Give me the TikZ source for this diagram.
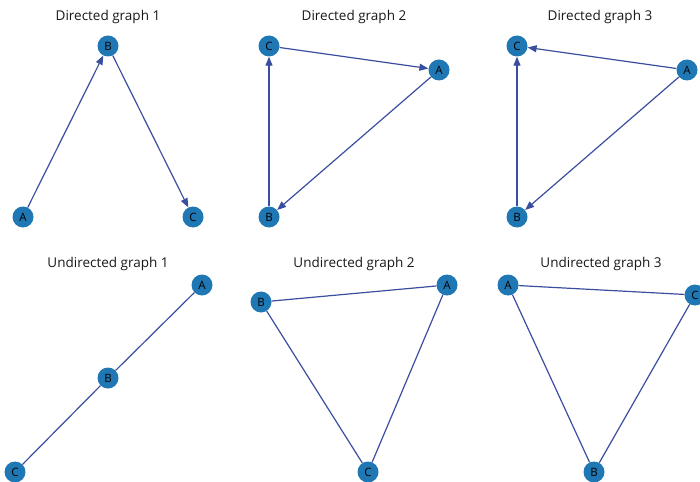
\documentclass[tikz,border=0pt]{standalone}
\usepackage{fontspec}
\setmainfont{Open Sans}
\usetikzlibrary{arrows.meta}
\definecolor{nodeblue}{RGB}{31,119,180}
\definecolor{edgeblue}{RGB}{58,78,160}
\tikzset{
  vtx/.style={circle, fill=nodeblue, minimum size=21pt, inner sep=0pt, font=\fontsize{11.5}{11.5}\selectfont, text=black},
  edg/.style={draw=edgeblue, line width=1.2pt},
  arc/.style={edg, -{Triangle[length=9pt,width=7pt]}, shorten >=0pt},
  ttl/.style={font=\fontsize{13.5}{15}\selectfont, text=black!90, anchor=center}
}
\begin{document}
\begin{tikzpicture}[x=1pt,y=-1pt]
\useasboundingbox (0,0) rectangle (700,481);
\clip (0,0) rectangle (700,481);
% Directed graph 1
\node[ttl] (t1) at (108,17) {Directed graph 1};
\node[vtx] (d1B) at (108,46) {B};
\node[vtx] (d1A) at (23,217) {A};
\node[vtx] (d1C) at (193,217) {C};
\draw[arc] (d1A) -- (d1B);
\draw[arc] (d1B) -- (d1C);
% Directed graph 2
\node[ttl] (t2) at (354,17) {Directed graph 2};
\node[vtx] (d2C) at (269,46) {C};
\node[vtx] (d2A) at (439,70) {A};
\node[vtx] (d2B) at (269,217) {B};
\draw[arc] (d2C) -- (d2A);
\draw[arc] (d2A) -- (d2B);
\draw[arc] (d2B) -- (d2C);
% Directed graph 3
\node[ttl] (t3) at (600,17) {Directed graph 3};
\node[vtx] (d3C) at (517,46) {C};
\node[vtx] (d3A) at (687,70) {A};
\node[vtx] (d3B) at (517,217) {B};
\draw[arc] (d3A) -- (d3C);
\draw[arc] (d3A) -- (d3B);
\draw[arc] (d3B) -- (d3C);
% Undirected graph 1
\node[ttl] (t4) at (108,264) {Undirected graph 1};
\node[vtx] (u1A) at (202,285) {A};
\node[vtx] (u1B) at (108,378) {B};
\node[vtx] (u1C) at (15,472) {C};
\draw[edg] (u1A) -- (u1B);
\draw[edg] (u1B) -- (u1C);
% Undirected graph 2
\node[ttl] (t5) at (354,264) {Undirected graph 2};
\node[vtx] (u2A) at (447,285) {A};
\node[vtx] (u2B) at (261,302) {B};
\node[vtx] (u2C) at (368,472) {C};
\draw[edg] (u2B) -- (u2A);
\draw[edg] (u2B) -- (u2C);
\draw[edg] (u2A) -- (u2C);
% Undirected graph 3
\node[ttl] (t6) at (601,264) {Undirected graph 3};
\node[vtx] (u3A) at (508,285) {A};
\node[vtx] (u3C) at (695,295) {C};
\node[vtx] (u3B) at (594,472) {B};
\draw[edg] (u3A) -- (u3C);
\draw[edg] (u3A) -- (u3B);
\draw[edg] (u3C) -- (u3B);
\end{tikzpicture}
\end{document}
